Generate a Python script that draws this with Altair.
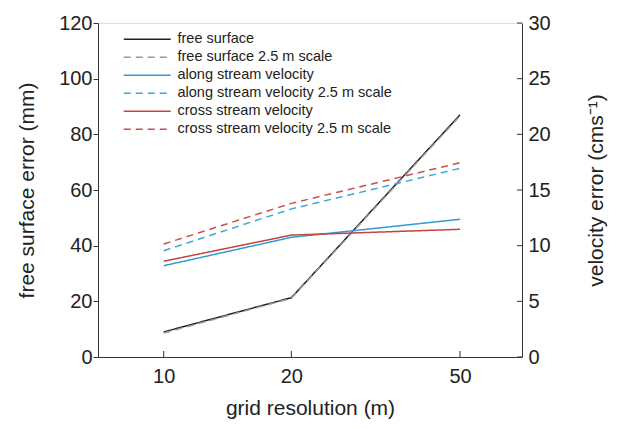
import altair as alt
import pandas as pd

grid = [10, 20, 50]
free_surface = [9.0, 21.3, 87.0]
free_surface_25 = [8.6, 21.1, 86.6]
along_vel = [8.2, 10.75, 12.37]
along_vel_25 = [9.55, 13.3, 16.95]
cross_vel = [8.6, 10.95, 11.47]
cross_vel_25 = [10.15, 13.8, 17.45]

series = ["free surface", "free surface 2.5 m scale", "along stream velocity",
          "along stream velocity 2.5 m scale", "cross stream velocity",
          "cross stream velocity 2.5 m scale"]
colors = ["#222222", "#9a9a9a", "#2f9bd2", "#3aa9dd", "#c0443f", "#c9504a"]
dashes = [[1, 0], [7, 5], [1, 0], [7, 5], [1, 0], [7, 5]]

xticks = [10, 20, 50]
vticks = [0, 5, 10, 15, 20, 25, 30]

rows_mm = []
for s, vals in [(series[0], free_surface), (series[1], free_surface_25)]:
    for g, v in zip(grid, vals):
        rows_mm.append({"grid": g, "value": v, "series": s})
rows_v = []
for s, vals in [(series[2], along_vel), (series[3], along_vel_25),
                (series[4], cross_vel), (series[5], cross_vel_25)]:
    for g, v in zip(grid, vals):
        rows_v.append({"grid": g, "value": v, "series": s})
df_mm = pd.DataFrame(rows_mm)
df_v = pd.DataFrame(rows_v)

FONT = "Liberation Sans"
W, H = 424, 334

xscale = alt.Scale(type="log", domain=[7, 70], nice=False)
color_enc = alt.Color("series:N", scale=alt.Scale(domain=series, range=colors),
                      sort=series,
                      legend=alt.Legend(title=None, orient="none", legendX=42, legendY=9,
                                        symbolType="M-4,0H4", symbolSize=138,
                                        symbolStrokeWidth=1.6, labelFontSize=14.5,
                                        labelFont=FONT, labelColor="#222",
                                        rowPadding=3, labelOffset=23, labelLimit=400))
dash_enc = alt.StrokeDash("series:N", scale=alt.Scale(domain=series, range=dashes),
                          sort=series, legend=None)

xenc = alt.X("grid:Q", scale=xscale,
             axis=alt.Axis(values=xticks, title="grid resolution (m)", tickSize=0,
                           labelFontSize=20, titleFontSize=21, labelPadding=9,
                           titlePadding=11, grid=False, domainColor="#333",
                           labelColor="#222", titleColor="#222", titleFontWeight="normal",
                           labelFont=FONT, titleFont=FONT, format="d"))

left = alt.Chart(df_mm).mark_line(strokeWidth=1.5).encode(
    x=xenc,
    y=alt.Y("value:Q", scale=alt.Scale(domain=[0, 120], nice=False),
            axis=alt.Axis(values=[0, 20, 40, 60, 80, 100, 120], orient="left",
                          title="free surface error (mm)", tickSize=5, labelPadding=1,
                          labelFontSize=20, titleFontSize=21, titlePadding=21,
                          grid=False, domainColor="#333", tickColor="#333",
                          labelColor="#222", titleColor="#222", titleFontWeight="normal",
                          labelFont=FONT, titleFont=FONT)),
    color=color_enc,
    strokeDash=dash_enc,
    order="grid:Q",
)

vlines = alt.Chart(df_v).mark_line(strokeWidth=1.5).encode(
    x=alt.X("grid:Q", scale=xscale),
    y=alt.Y("value:Q", scale=alt.Scale(domain=[0, 30], nice=False),
            axis=alt.Axis(values=vticks, orient="right", title="velocity error (cms⁻¹)",
                          titleAngle=270,
                          tickSize=0, labelPadding=6, labelFontSize=20, titleFontSize=21,
                          titlePadding=56, grid=False, domainColor="#333",
                          labelColor="#222", titleColor="#222", titleFontWeight="normal",
                          labelFont=FONT, titleFont=FONT)),
    color=color_enc,
    strokeDash=dash_enc,
    order="grid:Q",
)

rticks = alt.Chart(pd.DataFrame({"v": vticks})).mark_rule(color="#333", strokeWidth=1).encode(
    y=alt.Y("v:Q", scale=alt.Scale(domain=[0, 30], nice=False)),
    x=alt.value(W - 5), x2=alt.value(W),
)

right = alt.layer(vlines, rticks)

xt = alt.Chart(pd.DataFrame({"g": xticks})).mark_rule(color="#333", strokeWidth=1).encode(
    x=alt.X("g:Q", scale=xscale),
    y=alt.value(H - 6), y2=alt.value(H),
)

chart = alt.layer(left, xt, right).resolve_scale(y="independent").properties(
    width=W, height=H,
    autosize=alt.AutoSizeParams(type="none"),
    padding={"left": 90, "top": 15, "right": 89, "bottom": 63},
).configure_view(stroke="#333", strokeWidth=1.2).configure(background="white")

chart.save("out.html", embed_options={"renderer": "svg", "actions": False})
